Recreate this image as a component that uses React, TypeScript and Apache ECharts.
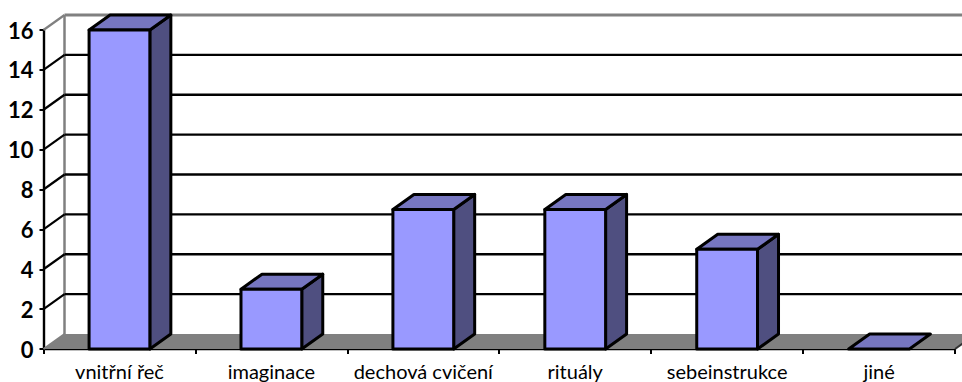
import React, { useEffect, useRef } from "react";
import * as echarts from "echarts";

const categories = ["vnitřní řeč", "imaginace", "dechová cvičení", "rituály", "sebeinstrukce", "jiné"];
const values = [16, 3, 7, 7, 5, 0];
const gridValues = [2, 4, 6, 8, 10, 12, 14, 16];
const yMax = 16;
const yStep = 2;

// Oblique offset of the 3D box depth, in pixels.
const DEPTH_X = 21;
const DEPTH_Y = -15;
const BAR_RATIO = 0.4;

const FRONT = "#9999FF";
const TOP = "#7676C0";
const SIDE = "#4F4F80";
const WALL = "#808080";
const INK = "#000000";

function poly(points: number[][], fill: string, lineWidth: number, stroke = INK) {
  return {
    type: "polygon",
    shape: { points },
    style: { fill, stroke, lineWidth, lineJoin: "round" },
  };
}

function seg(x1: number, y1: number, x2: number, y2: number, stroke: string, lineWidth: number) {
  return { type: "line", shape: { x1, y1, x2, y2 }, style: { stroke, lineWidth, fill: "none" } };
}

// Floor plane and left/back wall edges of the 3D frame.
function renderFrame(params: any, api: any) {
  const cs = params.coordSys;
  const left = cs.x;
  const right = cs.x + cs.width;
  const base = cs.y + cs.height;
  const top = cs.y;
  return {
    type: "group",
    children: [
      poly(
        [
          [left, base],
          [left + DEPTH_X, base + DEPTH_Y],
          [right + DEPTH_X, base + DEPTH_Y],
          [right, base],
        ],
        WALL,
        0,
        "none"
      ),
      seg(left + DEPTH_X, top + DEPTH_Y, left + DEPTH_X, base + DEPTH_Y, WALL, 2.5),
      seg(left, base, left + DEPTH_X, base + DEPTH_Y, WALL, 2),
      seg(right, base, right + DEPTH_X, base + DEPTH_Y, "#333333", 2),
    ],
  };
}

// Each value line runs from its axis tick up the side wall, then along the back wall.
function renderGridLine(params: any, api: any) {
  const cs = params.coordSys;
  const tick = api.value(1);
  const y = api.coord([0, tick])[1];
  const x = cs.x;
  const isTop = tick === yMax;
  const color = isTop ? WALL : INK;
  const width = isTop ? 3 : 2.4;
  return {
    type: "group",
    children: [
      seg(x, y, x + DEPTH_X, y + DEPTH_Y, color, 2.2),
      seg(x + DEPTH_X, y + DEPTH_Y, x + cs.width + DEPTH_X, y + DEPTH_Y, color, width),
    ],
  };
}

function renderBar(params: any, api: any) {
  const idx = api.value(0);
  const val = api.value(1);
  const [cx, yTop] = api.coord([idx, val]);
  const yBase = api.coord([idx, 0])[1];
  const w = api.size([1, 0])[0] * BAR_RATIO;
  const x0 = cx - w / 2;
  const x1 = cx + w / 2;
  const lw = 3;
  const topFace = poly(
    [
      [x0, yTop],
      [x0 + DEPTH_X, yTop + DEPTH_Y],
      [x1 + DEPTH_X, yTop + DEPTH_Y],
      [x1, yTop],
    ],
    TOP,
    lw
  );
  if (val === 0) {
    return { type: "group", children: [topFace] };
  }
  return {
    type: "group",
    children: [
      poly(
        [
          [x1, yTop],
          [x1 + DEPTH_X, yTop + DEPTH_Y],
          [x1 + DEPTH_X, yBase + DEPTH_Y],
          [x1, yBase],
        ],
        SIDE,
        lw
      ),
      topFace,
      poly(
        [
          [x0, yTop],
          [x1, yTop],
          [x1, yBase],
          [x0, yBase],
        ],
        FRONT,
        lw
      ),
    ],
  };
}

export default function App() {
  const ref = useRef<HTMLDivElement>(null);

  useEffect(() => {
    if (!ref.current) return;
    const chart = echarts.init(ref.current, undefined, { renderer: "svg" });
    chart.setOption({
      animation: false,
      backgroundColor: "#FFFFFF",
      grid: { left: 43.5, right: 7, top: 30, bottom: 33, containLabel: false },
      xAxis: {
        type: "category",
        data: categories,
        boundaryGap: true,
        axisLine: { show: true, lineStyle: { color: INK, width: 2.4 } },
        axisTick: { show: true, alignWithLabel: false, length: 5, lineStyle: { color: INK, width: 2 } },
        axisLabel: {
          interval: 0,
          margin: 12,
          color: INK,
          fontFamily: "Lato",
          fontSize: 20,
        },
        splitLine: { show: false },
      },
      yAxis: {
        type: "value",
        min: 0,
        max: yMax,
        interval: yStep,
        axisLine: { show: true, lineStyle: { color: INK, width: 2.4 } },
        axisTick: { show: true, length: 4, lineStyle: { color: INK, width: 2 } },
        axisLabel: {
          margin: 10,
          color: INK,
          fontFamily: "Lato",
          fontWeight: "bold",
          fontSize: 22,
        },
        splitLine: { show: false },
      },
      series: [
        {
          type: "custom",
          silent: true,
          z: 1,
          renderItem: renderFrame,
          data: [[0, 0]],
        },
        {
          type: "custom",
          silent: true,
          z: 2,
          renderItem: renderGridLine,
          data: gridValues.map((v) => [0, v]),
        },
        {
          type: "custom",
          silent: true,
          z: 3,
          renderItem: renderBar,
          data: values.map((v, i) => [i, v]),
        },
      ],
    });
    return () => chart.dispose();
  }, []);

  return (
    <div
      ref={ref}
      style={{ position: "absolute", left: 0, top: 0, width: 962, height: 382 }}
    />
  );
}
